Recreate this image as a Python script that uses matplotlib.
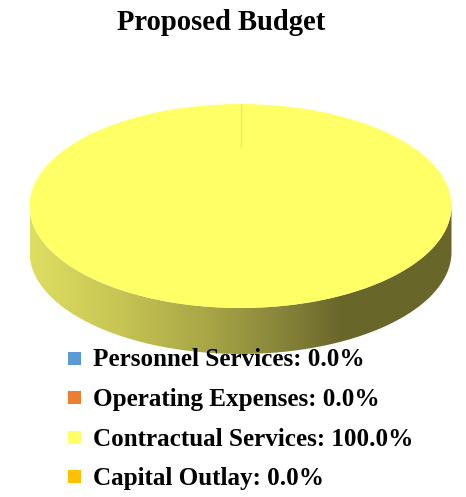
import numpy as np
import matplotlib
import matplotlib.pyplot as plt
from matplotlib.colors import LinearSegmentedColormap
from matplotlib.patches import Rectangle, PathPatch
from matplotlib.path import Path

matplotlib.use('Agg')

categories = ['Personnel Services', 'Operating Expenses', 'Contractual Services', 'Capital Outlay']
shares = [0.0, 0.0, 100.0, 0.0]
colors = ['#5B9BD5', '#ED7D31', '#FFFF66', '#FFC000']

W, H = 466, 497
plt.rcParams['font.family'] = ['Liberation Serif', 'DejaVu Serif']

fig = plt.figure(figsize=(W / 100, H / 100), dpi=100)

# Full-figure axes in pixel units, y pointing down
ax = fig.add_axes([0, 0, 1, 1])
ax.set_xlim(0, W)
ax.set_ylim(H, 0)
ax.axis('off')

cx, cy = 240.5, 206
rx, ry = 211, 102
depth = 46

# Side wall of the disc: lower half of the ellipse pushed down by depth
t = np.linspace(0, np.pi, 200)
xs = cx + rx * np.cos(t)
ys = cy + ry * np.sin(t)
wall = np.concatenate([np.column_stack([xs, ys + depth]),
                       np.column_stack([xs[::-1], ys[::-1]])])
wall_patch = PathPatch(Path(np.vstack([wall, wall[0]])), fc='none', ec='none')
ax.add_patch(wall_patch)
shade = LinearSegmentedColormap.from_list('wall', [
    (0.0, '#DEDE62'), (0.2, '#C8C654'), (0.42, '#A8A646'),
    (0.6, '#86843A'), (0.74, '#69662A'), (1.0, '#69662A')])
grad = ax.imshow(np.linspace(0, 1, 256)[None, :], cmap=shade, aspect='auto',
                 extent=(cx - rx, cx + rx, cy + ry + depth, cy), zorder=1)
grad.set_clip_path(wall_patch)
ax.set_xlim(0, W)
ax.set_ylim(H, 0)

# Top face: a pie in its own axes, squashed into the ellipse box
pie_ax = fig.add_axes([(cx - rx) / W, 1 - (cy + ry) / H, 2 * rx / W, 2 * ry / H])
pie_ax.pie(shares, colors=colors, startangle=90, counterclock=False, radius=1,
           wedgeprops={'linewidth': 0})
pie_ax.set_aspect('auto')
pie_ax.set_xlim(-1, 1)
pie_ax.set_ylim(-1, 1)
pie_ax.patch.set_visible(False)

# Zero-share slices collapse to a faint seam at twelve o'clock
pie_ax.plot([0, 0], [0.57, 1.0], color='#FFD95A', lw=1.0, alpha=0.8, solid_capstyle='butt')

# Title and legend sit on top of the pie
top = fig.add_axes([0, 0, 1, 1])
top.set_xlim(0, W)
top.set_ylim(H, 0)
top.axis('off')
top.patch.set_visible(False)

top.text(221.5, 22, 'Proposed Budget', fontsize=20.6, fontweight='bold',
         ha='center', va='center', color='black')

legend_rows = [359, 398.5, 438, 477]
for name, value, color, y in zip(categories, shares, colors, legend_rows):
    top.add_patch(Rectangle((68, y - 7.5), 13, 13, fc=color, ec='none'))
    top.text(93, y + 1, f'{name}: {value:.1f}%', fontsize=18.1, fontweight='bold',
             ha='left', va='center', color='black')

fig.savefig('out.png', dpi=100)
